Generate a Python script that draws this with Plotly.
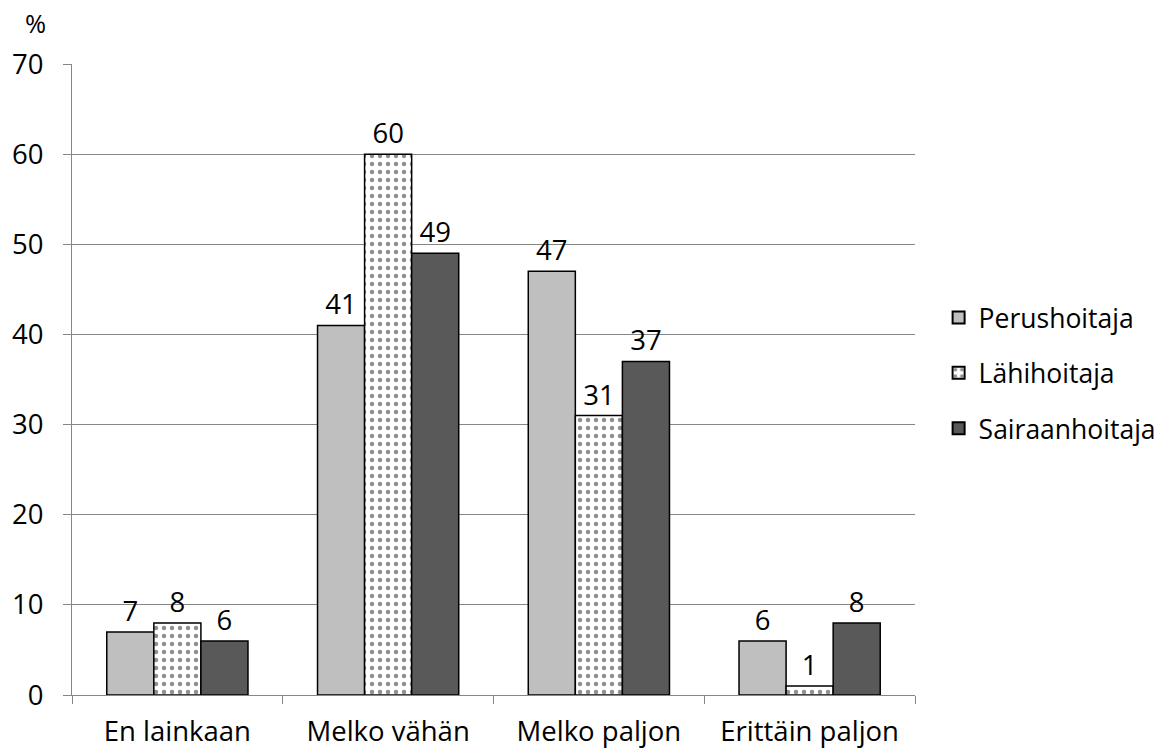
import plotly.graph_objects as go

categories = ["En lainkaan", "Melko vähän", "Melko paljon", "Erittäin paljon"]
perushoitaja = [7, 41, 47, 6]
lahihoitaja = [8, 60, 31, 1]
sairaanhoitaja = [6, 49, 37, 8]
y_ticks = [0, 10, 20, 30, 40, 50, 60, 70]

FONT = "Open Sans, Liberation Sans, sans-serif"
FS = 27.5
GRID = "#868686"

fig = go.Figure()
fig.add_trace(go.Bar(
    name="Perushoitaja", x=categories, y=perushoitaja, legendgroup="p",
    text=perushoitaja, textposition="outside",
    marker=dict(color="#BFBFBF", line=dict(color="black", width=1.5)),
))
fig.add_trace(go.Bar(
    name="Lähihoitaja", x=categories, y=lahihoitaja, legendgroup="l",
    text=lahihoitaja, textposition="outside",
    marker=dict(color="white", line=dict(color="black", width=1.5),
                pattern=dict(shape=".", fgcolor="#202020", bgcolor="white",
                             size=8, solidity=0.25, fillmode="overlay")),
))
fig.add_trace(go.Bar(
    name="Sairaanhoitaja", x=categories, y=sairaanhoitaja, legendgroup="s",
    text=sairaanhoitaja, textposition="outside",
    marker=dict(color="#595959", line=dict(color="black", width=1.5)),
))

fig.update_layout(
    width=1173, height=754,
    margin=dict(l=72, r=256, t=64, b=59),
    paper_bgcolor="white", plot_bgcolor="white",
    font=dict(family=FONT, size=FS, color="black"),
    barmode="group", bargap=0.33, bargroupgap=0,
    legend=dict(x=1.028, y=0.51, xanchor="left", yanchor="middle",
                font=dict(size=FS - 1), tracegroupgap=18, itemsizing="constant",
                bgcolor="rgba(0,0,0,0)"),
    annotations=[dict(text="%", x=0, xref="paper", xshift=-37, y=1, yref="paper",
                      yshift=41, showarrow=False, font=dict(size=FS - 2),
                      xanchor="center", yanchor="middle")],
)
fig.update_traces(textfont=dict(size=FS, color="black"), cliponaxis=False)
fig.update_xaxes(
    showline=True, linecolor=GRID, linewidth=1, automargin=False,
    ticks="outside", tickson="boundaries", ticklen=8, tickcolor=GRID,
    tickfont=dict(size=FS), showgrid=False, ticklabelstandoff=12,
)
fig.update_yaxes(
    range=[0, 70], tickvals=y_ticks, showgrid=True, gridcolor=GRID, gridwidth=1,
    showline=True, linecolor=GRID, linewidth=1, automargin=False,
    ticks="outside", ticklen=8, tickcolor=GRID, tickfont=dict(size=FS),
    zeroline=False, ticklabelstandoff=14,
)

fig.write_html("out.html")
